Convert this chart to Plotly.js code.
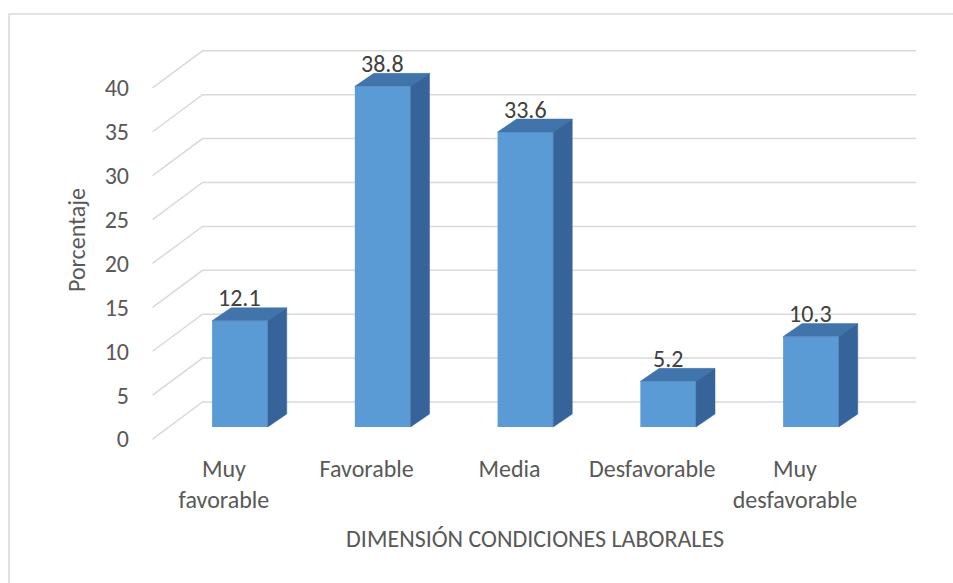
<!DOCTYPE html>
<html>
<head>
<meta charset="utf-8">
<script src="https://cdn.plot.ly/plotly-3.0.1.min.js"></script>
<style>html,body{margin:0;padding:0;background:#fff;}#chart{width:953px;height:583px;}</style>
</head>
<body>
<div id="chart"></div>
<script>
// ---- data ----
const categories = ['Muy<br>favorable', 'Favorable', 'Media', 'Desfavorable', 'Muy<br>desfavorable'];
const values = [12.1, 38.8, 33.6, 5.2, 10.3];
const valueLabels = ['12.1', '38.8', '33.6', '5.2', '10.3'];
const yTicks = [0, 5, 10, 15, 20, 25, 30, 35, 40];
const xTitle = 'DIMENSIÓN CONDICIONES LABORALES';
const yTitle = 'Porcentaje';

// ---- 3D look (style constants, in axis units) ----
const BAR_W = 0.39;
const DEPTH_DX = 0.133, DEPTH_DY = 1.48;   // bar depth
const BACK_DX = 0.238, BACK_DY = 2.85;     // back wall offset
const FRONT_DX = -0.112, FRONT_DY = -1.37; // front floor offset
const XR = [-0.7, 4.834], YR = [-1.48, 44.08];
const FONT = 'Calibri, Carlito, Lato, sans-serif';
const FS = 24;
const FRONT_C = '#5b9bd5', TOP_C = '#4074aa', SIDE_C = '#36649a';

const idx = categories.map((_, i) => i);
const traces = [];

// back wall gridlines + diagonal floor lines (base subplot, behind bars)
const gx = [], gy = [];
const xLeft = -0.5, xRight = categories.length - 0.5;
yTicks.forEach(v => {
  gx.push(xLeft + FRONT_DX, xLeft + BACK_DX, xRight + BACK_DX, null);
  gy.push(v + FRONT_DY, v + BACK_DY, v + BACK_DY, null);
});
traces.push({type: 'scatter', mode: 'lines', x: gx, y: gy, xaxis: 'x', yaxis: 'y',
  line: {color: '#d9d9d9', width: 1.5}, hoverinfo: 'skip', showlegend: false});

// front faces
traces.push({type: 'bar', x: idx, y: values, width: BAR_W, xaxis: 'x2', yaxis: 'y2',
  marker: {color: FRONT_C, line: {width: 0}}, hoverinfo: 'skip', showlegend: false});

// top and side faces
values.forEach((v, i) => {
  const x0 = i - BAR_W / 2, x1 = i + BAR_W / 2;
  traces.push({type: 'scatter', mode: 'lines', xaxis: 'x2', yaxis: 'y2', fill: 'toself',
    x: [x0, x1, x1 + DEPTH_DX, x0 + DEPTH_DX, x0],
    y: [v, v, v + DEPTH_DY, v + DEPTH_DY, v],
    fillcolor: TOP_C, line: {width: 0.5, color: TOP_C}, hoverinfo: 'skip', showlegend: false});
  traces.push({type: 'scatter', mode: 'lines', xaxis: 'x2', yaxis: 'y2', fill: 'toself',
    x: [x1, x1, x1 + DEPTH_DX, x1 + DEPTH_DX, x1],
    y: [0, v, v + DEPTH_DY, DEPTH_DY, 0],
    fillcolor: SIDE_C, line: {width: 0.5, color: SIDE_C}, hoverinfo: 'skip', showlegend: false});
});

const annotations = values.map((v, i) => ({
  x: i, y: v, xref: 'x2', yref: 'y2', text: valueLabels[i], showarrow: false,
  yanchor: 'middle', yshift: 23, font: {family: FONT, size: FS, color: '#404040'}
}));

const layout = {
  width: 953, height: 583,
  margin: {l: 140, r: 23, t: 40, b: 143},
  paper_bgcolor: '#ffffff', plot_bgcolor: 'rgba(0,0,0,0)',
  font: {family: FONT, color: '#595959', size: FS},
  showlegend: false,
  xaxis: {range: XR, showgrid: false, zeroline: false, showline: false, ticks: '',
    tickvals: idx.map(i => i + FRONT_DX), ticktext: categories,
    ticklabelstandoff: 12, tickfont: {family: FONT, size: FS, color: '#595959'},
    title: {text: xTitle, font: {family: FONT, size: FS, color: '#595959'}, standoff: 16}},
  yaxis: {range: YR, showgrid: false, zeroline: false, showline: false, ticks: '',
    tickvals: yTicks.map(v => v + FRONT_DY), ticktext: yTicks.map(String),
    ticklabelstandoff: 10, tickfont: {family: FONT, size: FS, color: '#595959'},
    title: {text: yTitle, font: {family: FONT, size: FS, color: '#595959'}, standoff: 12}},
  xaxis2: {range: XR, overlaying: 'x', visible: false},
  yaxis2: {range: YR, overlaying: 'y', visible: false},
  annotations: annotations,
  shapes: [{type: 'rect', xref: 'paper', yref: 'paper', x0: -0.1658, x1: 1.06, y0: -0.45, y1: 1.065,
    line: {color: '#d9d9d9', width: 1.5}, fillcolor: 'rgba(0,0,0,0)', layer: 'below'}]
};

Plotly.newPlot('chart', traces, layout, {displayModeBar: false, staticPlot: true});
</script>
</body>
</html>
